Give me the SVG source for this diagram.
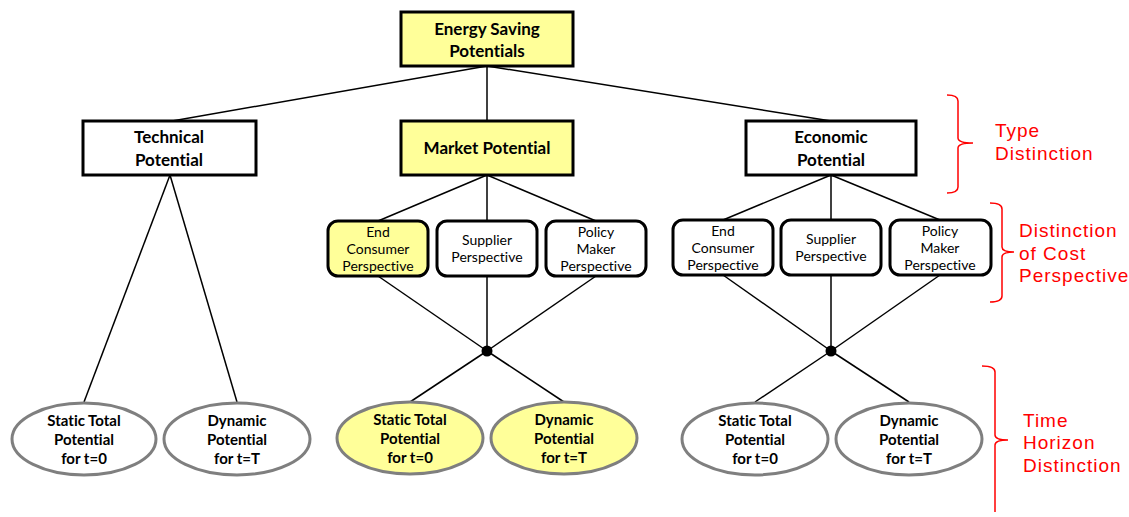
<svg xmlns="http://www.w3.org/2000/svg" width="1129" height="517" viewBox="0 0 1129 517">
<style>
text{font-variant-ligatures:none}
.box{fill:#fff;stroke:#000;stroke-width:3}
.hl{fill:#FFFF99}
.ell{fill:#fff;stroke:#7f7f7f;stroke-width:3}
.ell.hl{fill:#FFFF99}
.t{font-family:Lato,"Liberation Sans",sans-serif;font-weight:bold;font-size:17px;fill:#000;text-anchor:middle}
.s{font-family:Lato,"Liberation Sans",sans-serif;font-size:14px;fill:#000;text-anchor:middle}
.e{font-family:Lato,"Liberation Sans",sans-serif;font-weight:bold;font-size:15px;fill:#000;text-anchor:middle}
.r{font-family:"Liberation Sans",Arial,sans-serif;font-size:19px;fill:#ff0000;letter-spacing:1px}
.br{fill:none;stroke:#ff0000;stroke-width:1.5}
.c{stroke:#000;stroke-width:1.5;fill:none}
</style>
<g id="connectors">
<line class="c" x1="487" y1="66" x2="172" y2="121"/>
<line class="c" x1="487" y1="66" x2="487" y2="121"/>
<line class="c" x1="487" y1="66" x2="831" y2="121"/>
<line class="c" x1="170" y1="175" x2="84" y2="402"/>
<line class="c" x1="170" y1="175" x2="237" y2="402"/>
<line class="c" x1="487" y1="175" x2="378" y2="221"/>
<line class="c" x1="487" y1="175" x2="487" y2="221"/>
<line class="c" x1="487" y1="175" x2="596" y2="221"/>
<line class="c" x1="378" y1="276" x2="487" y2="351"/>
<line class="c" x1="487" y1="276" x2="487" y2="351"/>
<line class="c" x1="596" y1="276" x2="487" y2="351"/>
<line class="c" x1="487" y1="351" x2="410" y2="402"/>
<line class="c" x1="487" y1="351" x2="564" y2="402"/>
<line class="c" x1="831" y1="175" x2="723" y2="220"/>
<line class="c" x1="831" y1="175" x2="831" y2="220"/>
<line class="c" x1="831" y1="175" x2="940" y2="220"/>
<line class="c" x1="723" y1="275" x2="831" y2="351"/>
<line class="c" x1="831" y1="275" x2="831" y2="351"/>
<line class="c" x1="940" y1="275" x2="831" y2="351"/>
<line class="c" x1="831" y1="351" x2="755" y2="402"/>
<line class="c" x1="831" y1="351" x2="909" y2="402"/>
<circle cx="487" cy="351" r="5.5" fill="#000"/>
<circle cx="831" cy="351" r="5.5" fill="#000"/>
</g>
<g id="energy-saving">
<rect class="box hl" x="401" y="12" width="172" height="54"/>
<text class="t" x="487" y="35">Energy Saving</text>
<text class="t" x="487" y="57">Potentials</text>
</g>
<g id="technical">
<rect class="box" x="83" y="121" width="173" height="54"/>
<text class="t" x="169" y="143">Technical</text>
<text class="t" x="169" y="166">Potential</text>
</g>
<g id="market">
<rect class="box hl" x="401" y="121" width="172" height="54"/>
<text class="t" x="487" y="154">Market Potential</text>
</g>
<g id="economic">
<rect class="box" x="746" y="121" width="170" height="54"/>
<text class="t" x="831" y="143">Economic</text>
<text class="t" x="831" y="166">Potential</text>
</g>
<g id="m-end">
<rect class="box hl" x="328" y="221" width="100" height="55" rx="10"/>
<text class="s" x="378" y="237">End</text>
<text class="s" x="378" y="254">Consumer</text>
<text class="s" x="378" y="271">Perspective</text>
</g>
<g id="m-supplier">
<rect class="box" x="437" y="221" width="100" height="55" rx="10"/>
<text class="s" x="487" y="245">Supplier</text>
<text class="s" x="487" y="262">Perspective</text>
</g>
<g id="m-policy">
<rect class="box" x="546" y="221" width="100" height="55" rx="10"/>
<text class="s" x="596" y="237">Policy</text>
<text class="s" x="596" y="254">Maker</text>
<text class="s" x="596" y="271">Perspective</text>
</g>
<g id="e-end">
<rect class="box" x="673" y="220" width="100" height="55" rx="10"/>
<text class="s" x="723" y="236">End</text>
<text class="s" x="723" y="253">Consumer</text>
<text class="s" x="723" y="270">Perspective</text>
</g>
<g id="e-supplier">
<rect class="box" x="781" y="220" width="100" height="55" rx="10"/>
<text class="s" x="831" y="244">Supplier</text>
<text class="s" x="831" y="261">Perspective</text>
</g>
<g id="e-policy">
<rect class="box" x="890" y="220" width="101" height="55" rx="10"/>
<text class="s" x="940" y="236">Policy</text>
<text class="s" x="940" y="253">Maker</text>
<text class="s" x="940" y="270">Perspective</text>
</g>
<g id="t-static">
<ellipse class="ell" cx="84" cy="439" rx="72" ry="36"/>
<text class="e" x="84" y="426">Static Total</text>
<text class="e" x="84" y="445">Potential</text>
<text class="e" x="84" y="464">for t=0</text>
</g>
<g id="t-dynamic">
<ellipse class="ell" cx="237" cy="439" rx="73" ry="36"/>
<text class="e" x="237" y="426">Dynamic</text>
<text class="e" x="237" y="445">Potential</text>
<text class="e" x="237" y="464">for t=T</text>
</g>
<g id="m-static">
<ellipse class="ell hl" cx="410" cy="438" rx="73" ry="36"/>
<text class="e" x="410" y="425">Static Total</text>
<text class="e" x="410" y="444">Potential</text>
<text class="e" x="410" y="463">for t=0</text>
</g>
<g id="m-dynamic">
<ellipse class="ell hl" cx="564" cy="438" rx="73" ry="36"/>
<text class="e" x="564" y="425">Dynamic</text>
<text class="e" x="564" y="444">Potential</text>
<text class="e" x="564" y="463">for t=T</text>
</g>
<g id="e-static">
<ellipse class="ell" cx="755" cy="439" rx="73" ry="36"/>
<text class="e" x="755" y="426">Static Total</text>
<text class="e" x="755" y="445">Potential</text>
<text class="e" x="755" y="464">for t=0</text>
</g>
<g id="e-dynamic">
<ellipse class="ell" cx="909" cy="439" rx="73" ry="36"/>
<text class="e" x="909" y="426">Dynamic</text>
<text class="e" x="909" y="445">Potential</text>
<text class="e" x="909" y="464">for t=T</text>
</g>
<g id="type-distinction">
<path class="br" d="M947,95 Q958,95 958,101 L958,138 Q958,143 973,143 Q958,143 958,148 L958,187 Q958,193 947,193"/>
<text class="r" x="995" y="137">Type</text>
<text class="r" x="995" y="160">Distinction</text>
</g>
<g id="cost-distinction">
<path class="br" d="M990,203 Q1002,203 1002,209 L1002,247 Q1002,252 1014,252 Q1002,252 1002,257 L1002,296 Q1002,302 990,302"/>
<text class="r" x="1019" y="237">Distinction</text>
<text class="r" x="1019" y="260">of Cost</text>
<text class="r" x="1019" y="282">Perspective</text>
</g>
<g id="time-distinction">
<path class="br" d="M982,366 Q995,366 995,372 L995,435 Q995,440 1008,440 Q995,440 995,445 L995,512"/>
<text class="r" x="1023" y="427">Time</text>
<text class="r" x="1023" y="449">Horizon</text>
<text class="r" x="1023" y="472">Distinction</text>
</g>
</svg>
